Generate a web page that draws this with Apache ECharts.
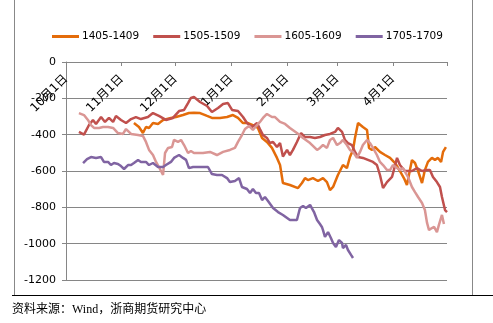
<!DOCTYPE html>
<html><head><meta charset="utf-8">
<script src="https://cdn.jsdelivr.net/npm/echarts@6/dist/echarts.min.js"></script>
<style>html,body{margin:0;padding:0;background:#fff}#c{width:493px;height:323px}</style>
</head><body><div id="c"></div>
<script>
// x = days since 10月1日, y = spread
var seriesNames = ['1405-1409','1505-1509','1605-1609','1705-1709'];
var seriesColors = ['#E46C0A','#C0504D','#DA9694','#8064A2'];
var monthStarts = [0,31,61,92,123,151,182,212];
var monthLabels = ['10月1日','11月1日','12月1日','1月1日','2月1日','3月1日','4月1日'];
var yTicks = [0,-200,-400,-600,-800,-1000,-1200];

var s1405 = [[37.8,-336],[40.6,-358],[42.8,-391],[44.5,-358],[46.2,-363],[48.4,-336],[51.2,-341],[54.0,-319],[58.4,-308],[61.2,-303],[65.1,-292],[68.4,-281],[71.2,-280],[74.6,-281],[78.5,-297],[81.2,-308],[85.7,-308],[89.6,-303],[92.9,-292],[95.7,-308],[98.5,-336],[101.3,-336],[104.0,-347],[106.8,-363],[109.1,-418],[111.8,-440],[114.6,-473],[117.4,-528],[119.1,-567],[120.7,-666],[124.6,-677],[129.1,-694],[131.3,-666],[133.0,-639],[134.6,-650],[137.4,-639],[140.2,-655],[143.0,-639],[145.2,-661],[146.9,-705],[148.6,-688],[151.3,-622],[154.1,-567],[156.3,-584],[158.0,-523],[159.7,-484],[160.8,-418],[162.5,-336],[163.6,-336],[165.2,-358],[167.5,-374],[168.6,-473],[170.3,-484],[171.9,-468],[174.7,-495],[177.5,-512],[180.3,-528],[183.1,-556],[185.8,-600],[188.1,-640],[189.7,-677],[192.5,-540],[194.2,-556],[195.9,-600],[198.1,-666],[199.7,-595],[201.4,-550],[203.6,-528],[205.3,-539],[207.0,-528],[208.7,-550],[209.8,-495],[211.4,-468]];
var s1505 = [[7.2,-385],[10.0,-400],[12.8,-347],[15.0,-319],[16.7,-341],[19.5,-303],[21.7,-330],[23.9,-308],[26.2,-330],[27.8,-297],[30.6,-319],[33.4,-336],[36.2,-314],[38.9,-303],[41.7,-314],[45.6,-303],[48.4,-281],[51.7,-297],[55.6,-319],[59.5,-308],[62.9,-270],[65.7,-264],[67.9,-226],[69.5,-198],[71.2,-193],[74.6,-220],[78.5,-242],[81.2,-275],[84.6,-253],[87.4,-231],[90.1,-226],[92.4,-264],[95.7,-270],[98.5,-303],[100.7,-336],[103.5,-358],[106.3,-336],[107.9,-369],[109.6,-402],[111.8,-418],[113.5,-446],[115.2,-440],[117.4,-468],[119.1,-446],[120.7,-520],[123.0,-484],[124.6,-512],[126.3,-484],[128.5,-440],[130.8,-391],[133.0,-413],[135.8,-413],[138.5,-418],[141.3,-413],[144.1,-402],[146.9,-396],[149.7,-385],[151.3,-363],[153.6,-385],[155.2,-429],[156.9,-446],[159.1,-457],[160.8,-495],[162.5,-523],[165.2,-528],[168.0,-539],[170.8,-550],[173.0,-567],[174.7,-622],[176.4,-694],[178.6,-661],[181.4,-633],[184.2,-528],[185.8,-567],[188.6,-600],[192.5,-600],[195.3,-584],[198.1,-600],[200.9,-595],[202.5,-595],[204.2,-633],[206.4,-661],[208.1,-688],[209.2,-743],[210.9,-815],[212.0,-826]];
var s1605 = [[7.2,-281],[10.0,-292],[12.2,-319],[13.9,-347],[15.6,-363],[18.4,-363],[20.6,-358],[23.4,-358],[26.2,-363],[28.9,-391],[31.7,-396],[33.4,-369],[36.2,-396],[40.1,-402],[42.8,-407],[44.5,-440],[46.2,-484],[48.4,-512],[50.1,-550],[51.7,-578],[54.0,-622],[55.1,-501],[56.8,-473],[59.0,-468],[60.1,-429],[62.3,-440],[64.0,-429],[65.7,-457],[67.9,-501],[69.5,-490],[71.2,-501],[76.2,-501],[80.1,-495],[84.0,-512],[87.4,-495],[91.2,-484],[94.0,-473],[95.7,-440],[97.9,-402],[99.6,-369],[101.8,-352],[104.0,-374],[106.3,-347],[107.9,-330],[109.6,-308],[111.8,-286],[114.6,-303],[116.3,-303],[119.1,-330],[121.9,-341],[124.6,-363],[128.5,-391],[131.9,-418],[135.8,-446],[139.7,-484],[141.3,-473],[143.0,-457],[145.2,-473],[146.9,-429],[148.6,-418],[150.8,-457],[152.5,-446],[154.1,-429],[156.3,-457],[158.0,-484],[159.7,-495],[161.9,-528],[163.6,-495],[165.2,-457],[167.5,-429],[169.1,-446],[170.8,-473],[173.0,-512],[174.7,-550],[176.4,-567],[178.6,-595],[180.3,-595],[181.9,-567],[184.2,-584],[185.8,-595],[187.5,-584],[190.3,-633],[192.5,-688],[194.2,-716],[195.9,-743],[198.1,-776],[199.7,-815],[200.9,-886],[202.0,-925],[203.6,-914],[204.8,-908],[206.4,-936],[207.5,-897],[209.2,-842],[209.8,-870],[210.3,-892]];
var s1705 = [[9.5,-556],[11.7,-534],[13.9,-523],[16.7,-528],[19.5,-523],[21.1,-550],[23.4,-550],[25.0,-567],[26.7,-556],[28.9,-561],[30.6,-573],[32.3,-589],[34.5,-567],[36.2,-567],[37.8,-556],[40.1,-539],[41.7,-550],[44.5,-550],[46.2,-567],[48.4,-556],[51.2,-578],[54.0,-578],[55.6,-567],[58.4,-550],[60.1,-528],[62.9,-512],[65.1,-528],[66.8,-539],[68.4,-584],[70.7,-578],[72.3,-578],[76.2,-578],[79.0,-578],[81.2,-617],[84.0,-622],[86.8,-622],[89.6,-639],[91.2,-661],[94.0,-655],[96.3,-639],[97.9,-688],[100.7,-699],[102.4,-721],[104.0,-699],[105.7,-721],[107.4,-721],[109.1,-760],[110.7,-743],[112.4,-765],[115.2,-804],[118.0,-826],[120.7,-842],[124.6,-870],[128.5,-870],[130.2,-804],[131.9,-793],[133.5,-804],[135.8,-787],[138.0,-826],[139.7,-870],[141.3,-892],[142.4,-908],[143.0,-925],[144.1,-963],[145.8,-936],[147.4,-969],[148.6,-996],[150.2,-1018],[151.9,-980],[153.6,-996],[154.1,-1024],[155.8,-1007],[156.9,-1035],[158.6,-1062],[159.7,-1079]];
var allData = [s1405, s1505, s1605, s1705];

var chart = echarts.init(document.getElementById('c'), null, {renderer:'canvas'});
var labelMap = {};
monthStarts.forEach(function(v,i){ if (i < monthLabels.length) labelMap[v] = monthLabels[i]; });

chart.setOption({
  animation: false,
  backgroundColor: '#fff',
  textStyle: { fontFamily: 'DejaVu Sans, Noto Sans CJK SC' },
  legend: {
    top: 31, left: 52, padding: 0,
    icon: 'rect', itemWidth: 27, itemHeight: 3, itemGap: 14,
    textStyle: { fontSize: 10.5, color: '#000', fontFamily: 'DejaVu Sans', padding: [0,0,0,-2] },
    data: seriesNames
  },
  grid: { left: 66, right: 46, top: 62, bottom: 43, containLabel: false },
  xAxis: {
    type: 'value', position: 'top', min: 0, max: 212,
    axisLine: { show: true, lineStyle: { color: '#868686', width: 1 } },
    axisTick: { show: true, inside: true, length: 4, customValues: monthStarts, lineStyle: { color: '#868686' } },
    axisLabel: {
      inside: true, rotate: 45, margin: 15, fontSize: 12, color: '#000',
      fontFamily: 'DejaVu Sans, Noto Sans CJK SC',
      customValues: monthStarts.slice(0, monthLabels.length),
      formatter: function(v){ return labelMap[v] || ''; }
    },
    splitLine: { show: false }
  },
  yAxis: {
    type: 'value', min: -1200, max: 0, interval: 200,
    axisLine: { show: true, lineStyle: { color: '#868686' } },
    axisTick: { show: true, inside: false, length: 4, lineStyle: { color: '#868686' } },
    axisLabel: { fontSize: 11, color: '#000', margin: 10, fontFamily: 'DejaVu Sans',
      customValues: yTicks, formatter: function(v){ return String(v); } },
    splitLine: { show: true, lineStyle: { color: '#868686', width: 1 } }
  },
  graphic: [
    { type: 'line', shape: { x1: 14.5, y1: 0, x2: 14.5, y2: 295 }, style: { stroke: '#888', lineWidth: 1 } },
    { type: 'line', shape: { x1: 472.5, y1: 0, x2: 472.5, y2: 295 }, style: { stroke: '#888', lineWidth: 1 } },
    { type: 'line', shape: { x1: 12, y1: 295.5, x2: 493, y2: 295.5 }, style: { stroke: '#000', lineWidth: 1 } },
    { type: 'text', left: 12, top: 304, style: { text: '资料来源：Wind，浙商期货研究中心', fontSize: 12, fill: '#000', fontFamily: 'Liberation Serif, Noto Sans CJK SC' } }
  ],
  series: allData.map(function(d, i){
    return {
      name: seriesNames[i], type: 'line', data: d, showSymbol: false, symbol: 'none',
      lineStyle: { color: seriesColors[i], width: 2.5 }, itemStyle: { color: seriesColors[i] },
      z: 2 + i
    };
  })
});
</script>
</body></html>
